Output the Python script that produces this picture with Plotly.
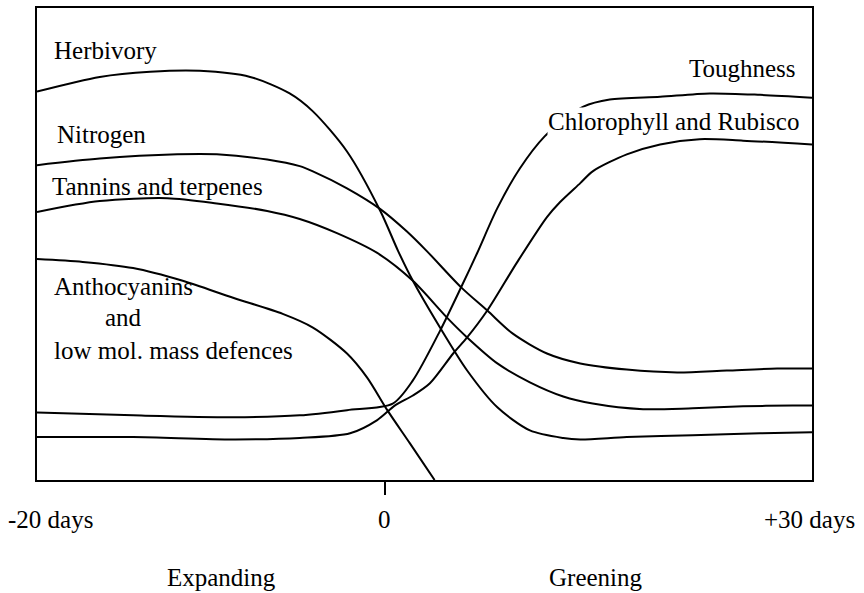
import plotly.graph_objects as go

# Position along the time axis (0 = left edge "-20 days", 100 = right edge "+30 days")
# and relative level (0 = bottom, 100 = top of the frame); schematic values.
herb_x = [0, 8.1, 14.6, 21.0, 27.5, 32.6, 35.6, 40.0, 44.3, 46.6, 48.5, 52.0, 55.5, 59.4, 63.6, 67.9, 70.1, 76.1, 84.6, 93.3, 100]
herb_y = [82.3, 85.4, 86.5, 86.7, 85.4, 81.9, 78.1, 69.6, 57.0, 48.5, 42.2, 32.3, 23.2, 15.4, 10.5, 8.9, 8.6, 9.1, 9.5, 9.9, 10.1]

nitro_x = [0, 8.1, 18.1, 23.2, 29.7, 33.9, 35.6, 40.0, 44.3, 47.7, 50.3, 54.8, 58.1, 61.4, 65.8, 70.1, 76.1, 82.6, 89.0, 95.5, 100]
nitro_y = [66.7, 68.1, 69.0, 69.0, 67.9, 66.5, 65.4, 61.8, 57.4, 52.7, 48.5, 40.7, 35.9, 31.0, 26.8, 24.7, 23.4, 22.8, 23.2, 23.6, 23.6]

tannin_x = [0, 8.1, 16.8, 23.2, 29.7, 33.9, 38.7, 43.9, 48.5, 52.9, 55.5, 59.4, 63.6, 67.9, 71.7, 78.2, 84.6, 91.1, 97.5, 100]
tannin_y = [56.8, 59.1, 59.7, 58.6, 57.0, 55.3, 52.3, 48.1, 42.2, 34.4, 30.2, 24.7, 20.7, 17.7, 16.2, 15.0, 15.2, 15.6, 15.8, 15.8]

antho_x = [0, 5.9, 12.4, 18.8, 25.3, 31.7, 35.6, 40.0, 42.6, 45.2, 48.1, 51.3]
antho_y = [46.8, 46.2, 44.9, 42.2, 38.6, 35.2, 32.3, 26.8, 21.7, 14.8, 7.8, 0.0]

tough_x = [0, 12.4, 25.3, 33.9, 40.0, 45.9, 48.5, 52.0, 54.8, 56.8, 59.4, 62.3, 65.5, 68.1, 70.5, 73.9, 80.4, 86.8, 93.3, 100]
tough_y = [14.3, 13.7, 13.3, 13.7, 14.8, 16.2, 21.1, 31.6, 41.1, 48.1, 57.6, 66.0, 72.8, 76.4, 79.1, 80.6, 81.2, 81.9, 81.6, 81.0]

chloro_x = [0, 12.4, 25.3, 33.9, 40.4, 43.9, 46.2, 48.5, 50.7, 53.7, 55.5, 58.1, 61.9, 65.8, 67.5, 70.1, 71.7, 76.1, 80.4, 85.5, 91.1, 100]
chloro_y = [9.1, 9.1, 8.6, 8.9, 9.9, 12.7, 15.8, 17.9, 20.5, 26.8, 30.2, 35.9, 46.0, 55.7, 58.9, 62.9, 65.4, 69.0, 71.1, 72.2, 71.9, 71.1]

series = [
    ("Herbivory", herb_x, herb_y),
    ("Nitrogen", nitro_x, nitro_y),
    ("Tannins and terpenes", tannin_x, tannin_y),
    ("Anthocyanins and low mol. mass defences", antho_x, antho_y),
    ("Toughness", tough_x, tough_y),
    ("Chlorophyll and Rubisco", chloro_x, chloro_y),
]

# Curve labels: (text, x, y, xanchor)
curve_labels = [
    ("Herbivory", 1.9, 90.9, "left"),
    ("Nitrogen", 2.3, 73.2, "left"),
    ("Tannins and terpenes", 1.7, 62.2, "left"),
    ("Anthocyanins", 1.9, 40.9, "left"),
    ("and", 8.5, 34.4, "left"),
    ("low mol. mass defences", 1.9, 27.4, "left"),
    ("Toughness", 98.2, 87.1, "right"),
]
chloro_label = ("Chlorophyll and Rubisco", 65.8, 75.9)

tick_positions = [1.7, 44.9, 99.7]
tick_labels = ["-20 days", "0", "+30 days"]
phase_positions = [23.8, 72.1]
phase_labels = ["Expanding", "Greening"]

FONT = "Liberation Serif, Times New Roman, serif"

fig = go.Figure()
for name, xs, ys in series:
    fig.add_trace(go.Scatter(x=xs, y=ys, mode="lines", name=name,
                             line=dict(color="black", width=2, shape="spline", smoothing=0.8),
                             hoverinfo="skip"))

annotations = []
for text, x, y, anc in curve_labels:
    annotations.append(dict(x=x, y=y, xref="x", yref="y", text=text, showarrow=False,
                            xanchor=anc, yanchor="middle", font=dict(family=FONT, size=25, color="black")))
annotations.append(dict(x=chloro_label[1], y=chloro_label[2], xref="x", yref="y", text=chloro_label[0],
                        showarrow=False, xanchor="left", yanchor="middle", bgcolor="white", borderpad=0,
                        font=dict(family=FONT, size=25, color="black")))
for x, t in zip(tick_positions, tick_labels):
    annotations.append(dict(x=x / 100, y=-0.084, xref="paper", yref="paper", text=t, showarrow=False,
                            xanchor="center", yanchor="middle", font=dict(family=FONT, size=25, color="black")))
for x, t in zip(phase_positions, phase_labels):
    annotations.append(dict(x=x / 100, y=-0.206, xref="paper", yref="paper", text=t, showarrow=False,
                            xanchor="center", yanchor="middle", font=dict(family=FONT, size=25, color="black")))

fig.update_layout(
    width=864, height=593,
    margin=dict(l=37, r=52, t=6, b=113),
    paper_bgcolor="white", plot_bgcolor="white",
    showlegend=False,
    annotations=annotations,
    xaxis=dict(range=[0, 100], showgrid=False, zeroline=False, showline=True, mirror=True,
               linecolor="black", linewidth=2, ticks="outside", tickvals=[tick_positions[1]],
               ticklen=13, tickwidth=2, tickcolor="black", showticklabels=False, fixedrange=True),
    yaxis=dict(range=[0, 100], showgrid=False, zeroline=False, showline=True, mirror=True,
               linecolor="black", linewidth=2, showticklabels=False, ticks="", fixedrange=True),
)

fig.write_html("out.html", config={"displayModeBar": False},
               post_script="document.body.style.margin='0px';document.body.style.overflow='hidden';")
